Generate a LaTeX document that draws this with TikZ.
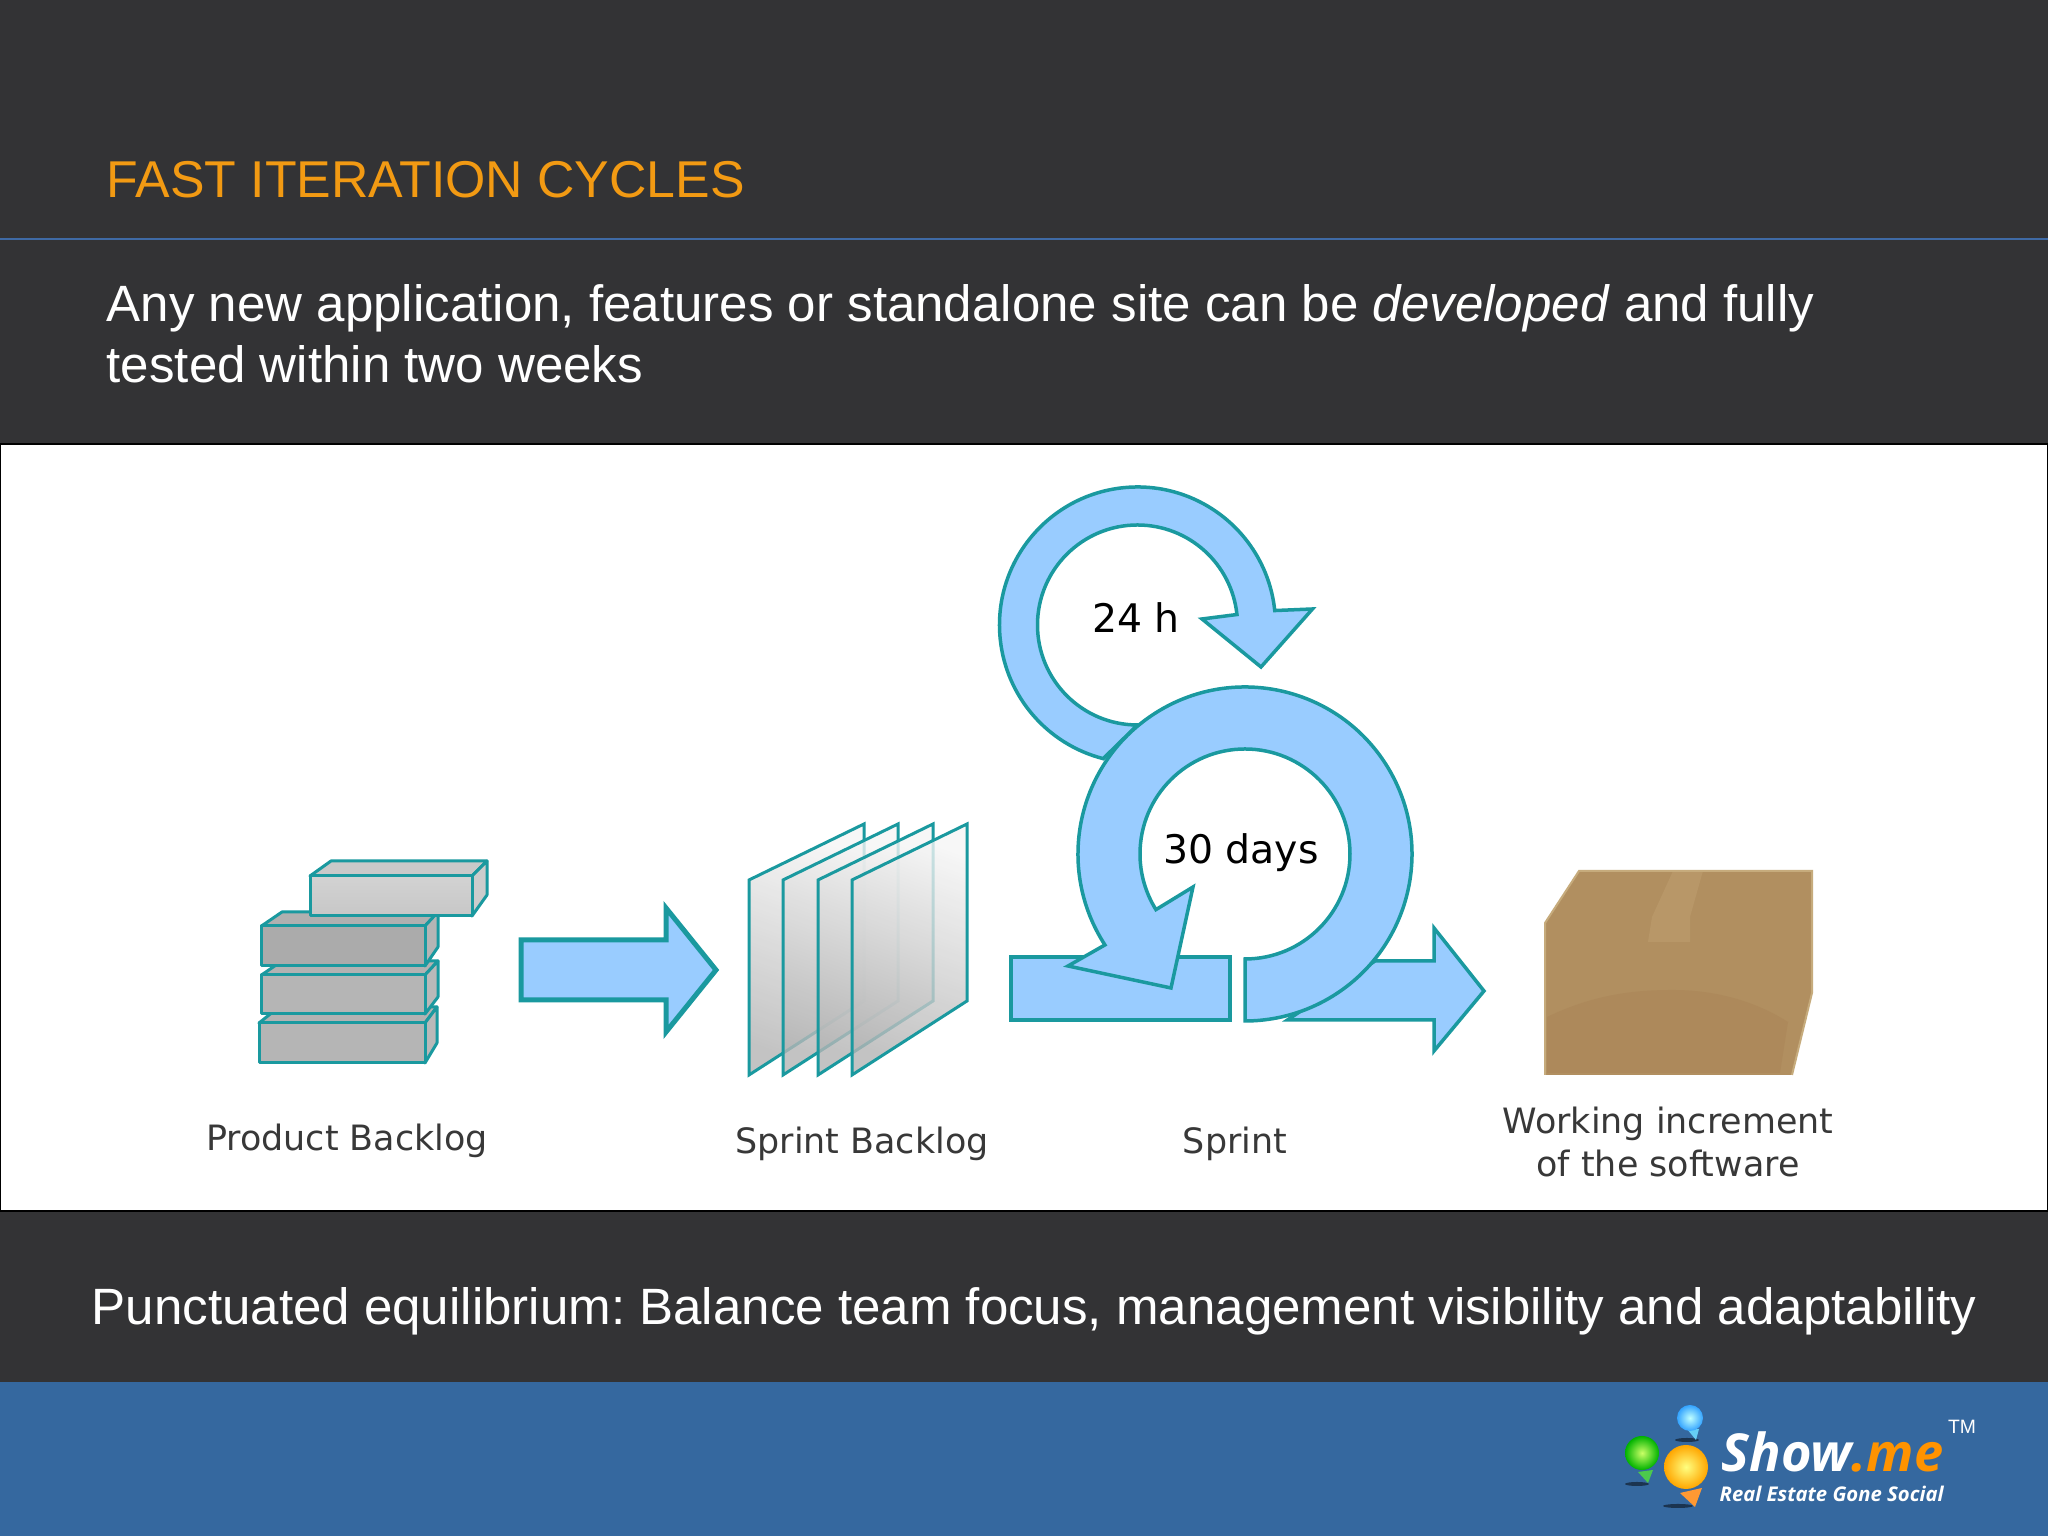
\documentclass[tikz,border=0pt]{standalone}
\usepackage{fontspec}
\setmainfont{Liberation Sans}
\newfontfamily\labelfont{DejaVu Sans}
\newfontfamily\logofont{Open Sans}
\usetikzlibrary{calc}

\definecolor{slidebg}{HTML}{333335}
\definecolor{footbg}{HTML}{35689F}
\definecolor{rulecol}{HTML}{3F6AA5}
\definecolor{titlecol}{HTML}{F29A13}
\definecolor{flowfill}{HTML}{99CCFF}
\definecolor{flowline}{HTML}{1A999F}
\definecolor{boxcol}{HTML}{B18F60}
\definecolor{boxdark}{HTML}{AD895B}
\definecolor{boxlight}{HTML}{B89768}
\definecolor{boxedge}{HTML}{C6AB7C}

\tikzset{
    flow/.style={draw=flowline, fill=flowfill, line width=0.035cm, line join=miter},
    brick/.style={draw=flowline, line width=0.03cm, line join=round},
    sheet/.style={draw=flowline, line width=0.03cm, top color=gray!8, bottom color=gray!58, shading angle=-20, fill opacity=0.8},
    slidetext/.style={anchor=base west, inner sep=0pt, text=white, font=\fontsize{14.53pt}{17.4pt}\selectfont},
    steplabel/.style={inner sep=0pt, text=black!78, align=center, font=\labelfont\fontsize{9.93pt}{12.2pt}\selectfont},
    looplabel/.style={inner sep=0pt, text=black, font=\labelfont\fontsize{11.2pt}{13pt}\selectfont},
    logotext/.style={anchor=base west, inner sep=0pt, text=white, font=\logofont\bfseries\itshape}
}

\begin{document}
\frenchspacing
\begin{tikzpicture}
    \useasboundingbox (0,0) rectangle (20.48,15.36);

    % slide background
    \fill[slidebg] (0,0) rectangle (20.48,15.36);
    \fill[footbg] (0,0) rectangle (20.48,1.54);
    \draw[rulecol, line width=0.02cm] (0,12.97) -- (20.48,12.97);
    \draw[black, fill=white, line width=0.02cm] (0,3.25) rectangle (20.48,10.92);

    % slide texts
    \node[slidetext, text=titlecol, font=\fontsize{14.74pt}{17.4pt}\selectfont] (title) at (1.06,13.385) {FAST ITERATION CYCLES};
    \node[slidetext] (lineone) at (1.06,12.14)
        {Any new application, features or standalone site can be \textit{developed} and fully};
    \node[slidetext] (linetwo) at (1.06,11.53) {tested within two weeks};
    \node[slidetext] (bottomline) at (0.91,2.11)
        {Punctuated equilibrium: Balance team focus, management visibility and adaptability};

    % product backlog bricks, lowest first
    \draw[brick, fill=gray!60] (2.59,5.13)--(2.79,5.29)--(4.37,5.29)--(4.25,5.13)--cycle;
    \draw[brick, fill=gray!55] (4.25,5.13)--(4.37,5.29)--(4.37,4.93)--(4.25,4.73)--cycle;
    \draw[brick, fill=gray!58] (2.59,4.73) rectangle (4.25,5.13);

    \draw[brick, fill=gray!60] (2.615,5.61)--(2.82,5.75)--(4.38,5.75)--(4.25,5.61)--cycle;
    \draw[brick, fill=gray!55] (4.25,5.61)--(4.38,5.75)--(4.38,5.39)--(4.25,5.22)--cycle;
    \draw[brick, fill=gray!58] (2.615,5.22) rectangle (4.25,5.61);

    \draw[brick, fill=gray!62] (2.615,6.10)--(2.82,6.24)--(4.38,6.24)--(4.25,6.10)--cycle;
    \draw[brick, fill=gray!58] (4.25,6.10)--(4.38,6.24)--(4.38,5.89)--(4.25,5.70)--cycle;
    \draw[brick, fill=gray!66] (2.615,5.70) rectangle (4.25,6.10);

    \draw[brick, fill=gray!42] (3.10,6.60)--(3.31,6.75)--(4.87,6.75)--(4.72,6.60)--cycle;
    \draw[brick, fill=gray!40] (4.72,6.60)--(4.87,6.75)--(4.87,6.41)--(4.72,6.20)--cycle;
    \draw[brick, top color=gray!35, bottom color=gray!44] (3.10,6.20) rectangle (4.72,6.60);

    % arrow to the sprint backlog
    \draw[flow, line width=0.05cm] (5.21,5.36)--(5.21,5.96)--(6.66,5.96)--(6.66,6.28)--(7.16,5.66)
        --(6.66,5.04)--(6.66,5.36)--cycle;

    % sprint backlog sheets
    \draw[sheet] (7.49,4.61)--(7.49,6.56)--(8.64,7.12)--(8.64,5.35)--cycle;
    \draw[sheet] (7.83,4.61)--(7.83,6.56)--(8.98,7.12)--(8.98,5.35)--cycle;
    \draw[sheet] (8.18,4.61)--(8.18,6.56)--(9.33,7.12)--(9.33,5.35)--cycle;
    \draw[sheet] (8.52,4.61)--(8.52,6.56)--(9.67,7.12)--(9.67,5.35)--cycle;

    % centres of the two loops
    \coordinate (Small) at (11.375,9.11);
    \coordinate (Big) at (12.45,6.82);

    % 24 h loop
    \draw[flow] ($(Small)+(-90:1.0)$) arc[start angle=-90, end angle=-354, radius=1.0]
        -- (12.02,9.17) -- (12.61,8.69) -- (13.125,9.27)
        -- ($(Small)+(6:1.38)$) arc[start angle=6, end angle=255.6, radius=1.38] -- cycle;

    % sprint input and output
    \draw[flow] (10.11,5.16) rectangle (12.30,5.79);
    \draw[flow] (12.875,5.16)--(14.34,5.16)--(14.34,4.85)--(14.84,5.45)--(14.34,6.08)
        --(14.34,5.75)--(13.75,5.75)--cycle;

    % 30 days loop
    \draw[flow] ($(Big)+(-90:1.05)$) arc[start angle=-90, end angle=212, radius=1.05]
        -- (11.93,6.49) -- (11.71,5.48) -- (10.68,5.70)
        -- ($(Big)+(213:1.67)$) arc[start angle=213, end angle=-90, radius=1.67] -- cycle;

    % loop labels
    \node[looplabel] (dayloop) at (11.36,9.18) {24 h};
    \node[looplabel] (sprintloop) at (12.41,6.83) {30 days};

    % packaged software
    \fill[boxcol] (15.45,6.13)--(15.79,6.65)--(18.12,6.65)--(18.12,5.43)--(17.92,4.61)--(15.45,4.61)--cycle;
    \fill[boxdark] (15.47,5.19) .. controls (15.95,5.42) and (16.35,5.46) .. (16.73,5.46)
        .. controls (17.15,5.46) and (17.55,5.35) .. (17.88,5.14) -- (17.80,4.63) -- (15.47,4.63) -- cycle;
    \fill[boxlight] (16.73,6.65)--(17.03,6.65)--(16.90,6.19)--(16.90,5.94)--(16.48,5.94)--(16.52,6.19)--cycle;
    \draw[boxedge, line width=0.02cm] (15.45,4.61)--(15.45,6.13)--(15.79,6.65)--(18.12,6.65)--(18.12,5.43)--(17.92,4.61);

    % step captions
    \node[steplabel] (productlabel) at (3.47,3.955) {Product Backlog};
    \node[steplabel] (sprintbacklabel) at (8.62,3.925) {Sprint Backlog};
    \node[steplabel] (sprintlabel) at (12.35,3.925) {Sprint};
    \node[steplabel] (softwarelabel) at (16.68,3.94) {Working increment\\of the software};

    % logo pins
    \fill[black!50!footbg] (16.87,0.96) ellipse (0.12 and 0.02);
    \fill[black!50!footbg] (16.37,0.52) ellipse (0.12 and 0.02);
    \fill[black!50!footbg] (16.78,0.30) ellipse (0.15 and 0.02);
    \fill[cyan!60!white] (16.87,1.07)--(16.99,1.07)--(16.96,0.96)--cycle;
    \fill[green!70!black!70!white] (16.38,0.64)--(16.53,0.66)--(16.48,0.53)--cycle;
    \fill[orange!80!white] (16.80,0.43)--(17.02,0.48)--(16.95,0.29)--cycle;
    \shade[inner color=cyan!25!white, outer color=cyan!55!blue!80!white] (16.90,1.18) circle (0.13);
    \shade[inner color=green!35!yellow!60!white, outer color=green!70!black] (16.42,0.83) circle (0.17);
    \shade[inner color=yellow!50!white, outer color=orange!70!yellow] (16.86,0.69) circle (0.22);

    % logo texts
    \node[logotext, font=\logofont\bfseries\itshape\fontsize{14.9pt}{16pt}\selectfont]
        (logoname) at (17.21,0.64) {Show\textcolor{orange!85!yellow}{.me}};
    \node[logotext, font=\logofont\bfseries\itshape\fontsize{5.77pt}{7pt}\selectfont]
        (logotag) at (17.19,0.34) {Real Estate Gone Social};
    \node[inner sep=0pt, text=white, font=\fontsize{5.5pt}{7pt}\selectfont] (logotm) at (19.62,1.09) {TM};
\end{tikzpicture}
\end{document}
